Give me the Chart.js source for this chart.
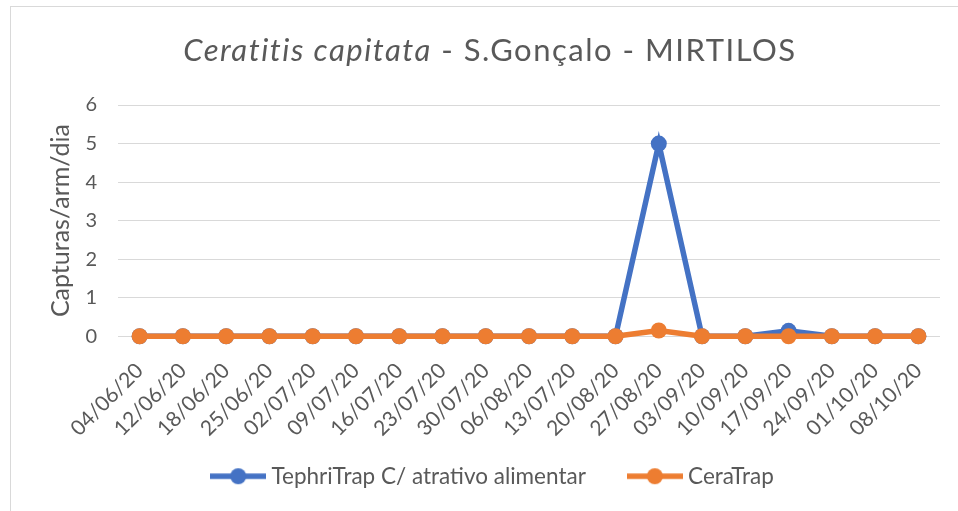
<!DOCTYPE html>
<html><head><meta charset="utf-8">
<script src="https://cdn.jsdelivr.net/npm/chart.js@4"></script>
<style>
html,body{margin:0;padding:0;background:#fff;}
#wrap{position:relative;width:958px;height:511px;overflow:hidden;background:#fff;}
#frame{position:absolute;left:10px;top:6px;width:960px;height:520px;border:1px solid #D9D9D9;box-sizing:border-box;}
#title{position:absolute;left:0;top:29px;width:980px;text-align:center;font-family:Lato,sans-serif;font-size:31px;letter-spacing:1.5px;color:#595959;white-space:nowrap;line-height:40px;}
canvas{position:absolute;left:0;top:0;}
</style></head>
<body><div id="wrap"><div id="frame"></div><canvas id="c" width="958" height="511"></canvas><div id="title"><i>Ceratitis capitata</i> - S.Gonçalo - MIRTILOS</div></div>
<script>
const categories = ['04/06/20','12/06/20','18/06/20','25/06/20','02/07/20','09/07/20','16/07/20','23/07/20','30/07/20','06/08/20','13/07/20','20/08/20','27/08/20','03/09/20','10/09/20','17/09/20','24/09/20','01/10/20','08/10/20'];
const tephriTrap = [0,0,0,0,0,0,0,0,0,0,0,0,5,0,0,0.14,0,0,0];
const ceraTrap   = [0,0,0,0,0,0,0,0,0,0,0,0,0.15,0,0,0,0,0,0];
const seriesNames = ['TephriTrap C/ atrativo alimentar','CeraTrap'];
const seriesColors = ['#4472C4','#ED7D31'];
const yTitle = 'Capturas/arm/dia';
const yMin = 0, yMax = 6, yStep = 1;

function marker(color){
  const c = document.createElement('canvas');
  c.width = 56; c.height = 18;
  const x = c.getContext('2d');
  x.strokeStyle = color; x.fillStyle = color; x.lineWidth = 5.5;
  x.beginPath(); x.moveTo(0,9); x.lineTo(56,9); x.stroke();
  x.beginPath(); x.arc(28,9,8,0,Math.PI*2); x.fill();
  return c;
}
const markers = seriesColors.map(marker);
const textColor = '#595959';
const legendPad = 47, legendFont = 22.5;

const legendShift = {
  id:'legendShift',
  afterLayout(chart){ if (chart.legend){ chart.legend.left += 4; chart.legend.right += 4; } }
};

new Chart(document.getElementById('c'), {
  type:'line',
  data:{labels:categories, datasets:[
    {label:seriesNames[0], data:tephriTrap, borderColor:seriesColors[0], backgroundColor:seriesColors[0], borderWidth:5.5, pointRadius:8, pointHoverRadius:8, pointBorderWidth:0, pointBackgroundColor:seriesColors[0], tension:0, order:1, clip:false},
    {label:seriesNames[1], data:ceraTrap, borderColor:seriesColors[1], backgroundColor:seriesColors[1], borderWidth:5.5, pointRadius:8, pointHoverRadius:8, pointBorderWidth:0, pointBackgroundColor:seriesColors[1], tension:0, order:0, clip:false}
  ]},
  plugins:[legendShift],
  options:{
    responsive:false, animation:false, devicePixelRatio:1,
    layout:{padding:{top:105,left:42,right:18,bottom:13.5}},
    plugins:{
      title:{display:false}, tooltip:{enabled:false},
      legend:{position:'bottom',
        labels:{usePointStyle:true, pointStyleWidth:44, padding:legendPad, color:textColor, font:{family:'Lato', size:legendFont},
          generateLabels: chart => chart.data.datasets.map((d,i)=>({text:d.label, pointStyle:markers[i], fillStyle:d.borderColor, strokeStyle:d.borderColor, lineWidth:0, hidden:false, datasetIndex:i, fontColor:textColor}))
        }
      }
    },
    scales:{
      x:{offset:true, grid:{display:false}, border:{display:false},
         ticks:{minRotation:45, maxRotation:45, autoSkip:false, color:textColor, font:{family:'Lato', size:21}, padding:14},
         afterFit:s=>{s.height = 476 - legendFont/2 - legendPad - 336; s._computeLabelArea = () => undefined;}},
      y:{min:yMin, max:yMax,
         ticks:{stepSize:yStep, color:textColor, font:{family:'Lato', size:20}, padding:21},
         grid:{color:'#D9D9D9', lineWidth:1, drawTicks:false}, border:{display:false},
         title:{display:true, text:yTitle, color:textColor, font:{family:'Lato', size:25}},
         afterFit:s=>{s.width=76;}}
    }
  }
});
</script>
</body></html>
